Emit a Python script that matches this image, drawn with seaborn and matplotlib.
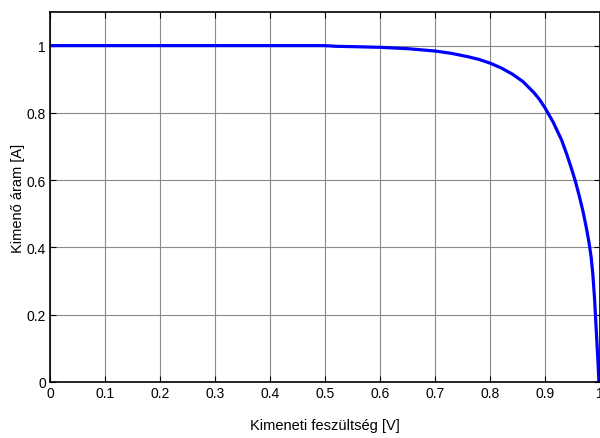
import matplotlib
matplotlib.use("Agg")
import matplotlib.pyplot as plt
import seaborn as sns
import pandas as pd

voltage = [0.0, 0.1, 0.2, 0.3, 0.4, 0.5, 0.52, 0.55, 0.6, 0.65, 0.7, 0.73, 0.76, 0.78,
           0.8, 0.82, 0.84, 0.86, 0.88, 0.89, 0.9, 0.915, 0.93, 0.94, 0.948, 0.955,
           0.962, 0.969, 0.975, 0.98, 0.984, 0.987, 0.99, 0.992, 0.994, 0.996, 0.998]
current = [1.0, 1.0, 1.0, 1.0, 1.0, 1.0, 0.998, 0.997, 0.995, 0.991, 0.984, 0.977, 0.967, 0.959,
           0.948, 0.934, 0.916, 0.893, 0.86, 0.84, 0.815, 0.772, 0.72, 0.675, 0.635, 0.598,
           0.555, 0.508, 0.46, 0.415, 0.37, 0.32, 0.25, 0.19, 0.13, 0.07, 0.0]
x_ticks = [0, 0.1, 0.2, 0.3, 0.4, 0.5, 0.6, 0.7, 0.8, 0.9, 1.0]
x_tick_labels = ["0", "0.1", "0.2", "0.3", "0.4", "0.5", "0.6", "0.7", "0.8", "0.9", "1"]
y_ticks = [0, 0.2, 0.4, 0.6, 0.8, 1.0]
y_tick_labels = ["0", "0.2", "0.4", "0.6", "0.8", "1"]

sns.set_style("white")
plt.rcParams["font.family"] = ["Liberation Sans", "DejaVu Sans"]
plt.rcParams["text.color"] = "black"
plt.rcParams["axes.labelcolor"] = "black"

df = pd.DataFrame({"V": voltage, "I": current})

fig = plt.figure(figsize=(6.0, 4.39), dpi=100)
ax = fig.add_axes([50 / 600, 1 - 383 / 439, 550 / 600, (383 - 13) / 439])
sns.lineplot(data=df, x="V", y="I", ax=ax, color="#0000ff", linewidth=2.3,
             sort=False, estimator=None)

ax.set_xlim(0, 1)
ax.set_ylim(0, 1.1)
ax.set_xticks(x_ticks)
ax.set_xticklabels(x_tick_labels, fontsize=10)
ax.set_yticks(y_ticks)
ax.set_yticklabels(y_tick_labels, fontsize=10)
ax.grid(True, color="#8a8a8a", linewidth=0.8, linestyle="-")
ax.set_axisbelow(True)
ax.tick_params(direction="in", length=4, width=0.8, top=True, right=True,
               bottom=True, left=True, pad=3, colors="black")
for s in ax.spines.values():
    s.set_color("black")
    s.set_linewidth(1.2)
    s.set_visible(True)

ax.set_xlabel("Kimeneti feszültség [V]", fontsize=10.5, labelpad=13, color="black")
ax.set_ylabel("Kimenő áram [A]", fontsize=10.5, labelpad=1, color="black")

fig.savefig("out.png", dpi=100)
